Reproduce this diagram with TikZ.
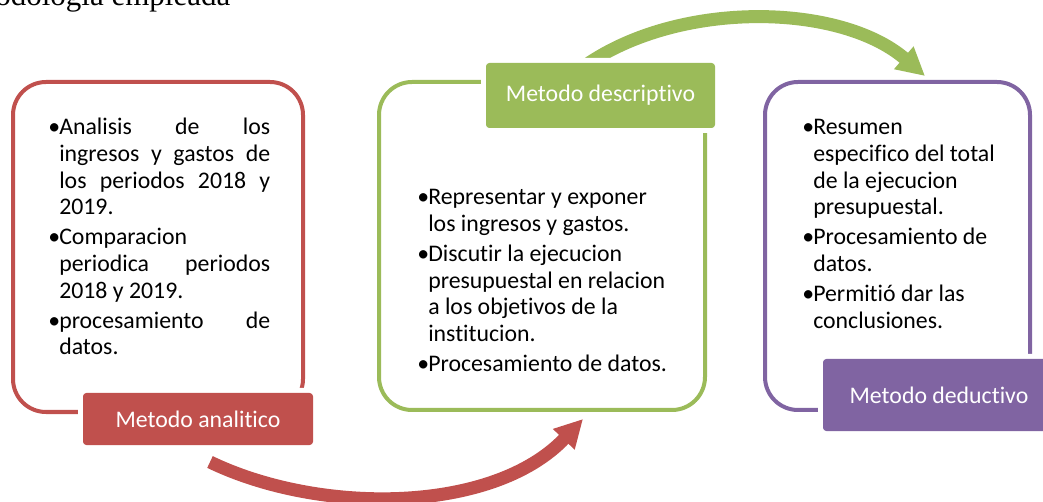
\documentclass[tikz,border=0pt]{standalone}
\usepackage{fontspec}
\setmainfont{Carlito}[Ligatures=NoCommon]
\newfontfamily\titlefont{Liberation Serif}
\usetikzlibrary{arrows.meta}
\definecolor{cred}{HTML}{C0504D}
\definecolor{cgreen}{HTML}{9BBB59}
\definecolor{cpurple}{HTML}{8064A2}
\newlength\bulw \setlength\bulw{8.25pt}
\newcommand\bitem[1]{\par\noindent\hangindent=\bulw\hangafter=1\makebox[\bulw][l]{\textbullet}#1\par}
\newcommand\bsep{\vspace{2.5pt}}
\newcommand\bodyfont{\fontsize{17.85pt}{20pt}\selectfont}
\newcommand\jlist[2]{\parbox[t]{#1}{\bodyfont\hyphenpenalty=10000\exhyphenpenalty=10000\tolerance=10000\hbadness=10000 #2}}
\newcommand\rlist[2]{\parbox[t]{#1}{\bodyfont\raggedright\hyphenpenalty=10000\exhyphenpenalty=10000\hbadness=10000 #2}}
\begin{document}
\begin{tikzpicture}[x=0.75pt,y=-0.75pt,
  frame/.style={draw, line width=3pt, rounded corners=24.75pt, inner sep=0pt},
  lab/.style={rounded corners=2.5pt, text=white, font=\bodyfont, inner sep=0pt,
              preaction={draw=white, line width=7.5pt}},
  bigarrow/.style={line width=9.75pt, -{Triangle[length=21pt,width=21pt]}},
  bodytext/.style={anchor=base west, inner sep=0pt}]
\useasboundingbox (0,0) rectangle (1043,502);

% title fragment
\node[anchor=base west, inner sep=0pt, font=\titlefont\fontsize{23.25pt}{28pt}\selectfont] (title) at (-5,6) {odologia empleada};

% frames
\node[frame, draw=cred, minimum width=217.5pt, minimum height=247.5pt] (rbox) at (158,247) {};
\node[frame, draw=cgreen, minimum width=244.5pt, minimum height=246pt] (gbox) at (542,246) {};
\node[frame, draw=cpurple, minimum width=198.75pt, minimum height=246pt] (pbox) at (897.5,246) {};

% label positions (anchors for the arrows)
\coordinate (rlabS) at (198,445);
\coordinate (glabN) at (600.5,63);

% arrows
\coordinate (ra) at ([shift={(12,17)}]rlabS);
\coordinate (rb) at ([shift={(41,7)}]gbox.south);
\draw[bigarrow, cred] (ra) .. controls +(110,53) and +(-90,95) .. (rb);
\coordinate (ga) at ([shift={(-14.5,2)}]glabN);
\coordinate (gb) at ([shift={(27.5,-4)}]pbox.north);
\draw[bigarrow, cgreen] (ga) .. controls +(94,-65) and +(-85,-73) .. (gb);

% labels
\node[lab, fill=cred, minimum width=172.5pt, minimum height=39pt] (rlab) at (198,419) {Metodo analitico};
\node[lab, fill=cgreen, minimum width=171.75pt, minimum height=48.75pt] (glab) at (600.5,95.5) {Metodo descriptivo};
\node[lab, fill=cpurple, minimum width=174pt, minimum height=54pt] (plab) at (939,395) {Metodo deductivo};

% texts
\node[bodytext] (rtext) at (48,135) {\jlist{166.5pt}{%
\bitem{Analisis de los\linebreak ingresos y gastos de\linebreak los periodos 2018 y\linebreak 2019.}\bsep
\bitem{Comparacion\linebreak periodica periodos\linebreak 2018 y 2019.}\bsep
\bitem{procesamiento de\linebreak datos.}}};

\node[bodytext] (gtext) at (417,205) {\rlist{195.75pt}{%
\bitem{Representar y exponer\newline los ingresos y gastos.}\bsep
\bitem{Discutir la ejecucion\newline presupuestal en relacion\newline a los objetivos de la\newline institucion.}\bsep
\bitem{Procesamiento de datos.}}};

\node[bodytext] (ptext) at (802,135) {\rlist{154.5pt}{%
\bitem{Resumen\newline especifico del total\newline de la ejecucion\newline presupuestal.}\bsep
\bitem{Procesamiento de\newline datos.}\bsep
\bitem{Permitió dar las\newline conclusiones.}}};
\end{tikzpicture}
\end{document}
